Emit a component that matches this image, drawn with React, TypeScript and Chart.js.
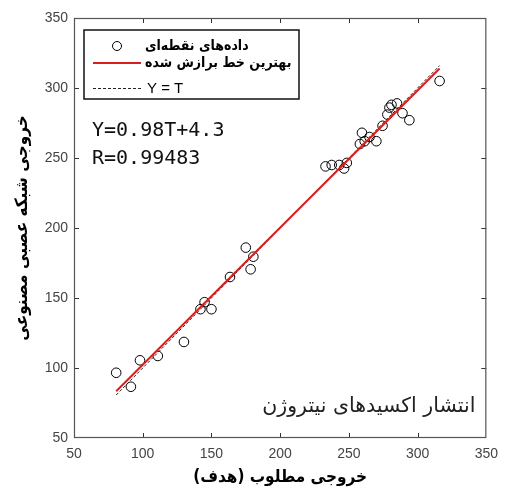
import React, { useEffect, useRef } from 'react';
import { Chart, registerables } from 'chart.js';

Chart.register(...registerables);

// Target (desired) outputs
const targetValues = [
  80.7, 91.4, 98, 111, 130, 142, 145, 150, 163.5, 175, 180.5, 178.5,
  233, 237.5, 243, 246.5, 248.5, 258, 259.5, 261.5, 265, 270, 274.5,
  278, 279.5, 281, 285, 289, 294, 316,
];
// Network outputs
const networkOutputs = [
  96.6, 86.6, 105.5, 108.6, 118.6, 142, 147, 142, 165, 186, 179.5, 170.5,
  244, 245, 245, 242.5, 246.5, 260, 268, 262, 265, 262, 273,
  281, 286, 288, 289, 282, 277, 305,
];
const fitSlope = 0.98;
const fitIntercept = 4.3;
const axisMin = 50;
const axisMax = 350;
const axisStep = 50;
const legendLabels = ['داده‌های نقطه‌ای', 'بهترین خط برازش شده', 'Y = T'];
const equationText = 'Y=0.98T+4.3';
const correlationText = 'R=0.99483';
const annotationText = 'انتشار اکسیدهای نیتروژن';
const xTitle = 'خروجی مطلوب (هدف)';
const yTitle = 'خروجی شبکه عصبی مصنوعی';

const RED = '#d81e1e';
const PERSIAN_FONT = '"DejaVu Sans", sans-serif';
const PERSIAN_COND = '"DejaVu Sans Condensed", "DejaVu Sans", sans-serif';

const overlayPlugin = {
  id: 'matlabOverlay',
  afterDatasetsDraw(chart: any) {
    const { ctx, chartArea: ca, scales } = chart;
    const xs = scales.x;
    const ys = scales.y;
    ctx.save();
    // ticks inward on all four sides
    ctx.strokeStyle = '#333';
    ctx.lineWidth = 1;
    const tl = 5;
    for (let v = axisMin + axisStep; v < axisMax; v += axisStep) {
      const px = Math.round(xs.getPixelForValue(v)) + 0.5;
      ctx.beginPath();
      ctx.moveTo(px, ca.bottom);
      ctx.lineTo(px, ca.bottom - tl);
      ctx.moveTo(px, ca.top);
      ctx.lineTo(px, ca.top + tl);
      ctx.stroke();
      const py = Math.round(ys.getPixelForValue(v)) + 0.5;
      ctx.beginPath();
      ctx.moveTo(ca.left, py);
      ctx.lineTo(ca.left + tl, py);
      ctx.moveTo(ca.right, py);
      ctx.lineTo(ca.right - tl, py);
      ctx.stroke();
    }
    // box
    ctx.strokeStyle = '#555';
    ctx.lineWidth = 1.2;
    ctx.strokeRect(ca.left + 0.5, ca.top + 0.5, ca.right - ca.left - 1, ca.bottom - ca.top - 1);

    // legend
    const lx = ca.left + 10;
    const ly = ca.top + 12;
    const lw = 215;
    const lh = 69;
    ctx.fillStyle = '#fff';
    ctx.fillRect(lx, ly, lw, lh);
    ctx.strokeStyle = '#111';
    ctx.lineWidth = 1.5;
    ctx.strokeRect(lx, ly, lw, lh);

    const row1 = ly + 16;
    const row2 = ly + 32;
    const row3 = ly + 58;
    // marker
    ctx.strokeStyle = '#000';
    ctx.lineWidth = 1;
    ctx.beginPath();
    ctx.arc(lx + 33, row1, 4.5, 0, Math.PI * 2);
    ctx.stroke();
    // red line
    ctx.strokeStyle = RED;
    ctx.lineWidth = 2;
    ctx.beginPath();
    ctx.moveTo(lx + 9, row2 + 1);
    ctx.lineTo(lx + 57, row2 + 1);
    ctx.stroke();
    // dashed line
    ctx.strokeStyle = '#222';
    ctx.lineWidth = 1;
    ctx.setLineDash([3, 2]);
    ctx.beginPath();
    ctx.moveTo(lx + 9, row3 + 0.5);
    ctx.lineTo(lx + 57, row3 + 0.5);
    ctx.stroke();
    ctx.setLineDash([]);

    ctx.fillStyle = '#000';
    ctx.textBaseline = 'middle';
    ctx.textAlign = 'left';
    ctx.direction = 'rtl';
    ctx.font = 'bold 14px ' + PERSIAN_COND;
    ctx.fillText(legendLabels[0], lx + 61, row1);
    ctx.fillText(legendLabels[1], lx + 61, row2 + 1);
    ctx.direction = 'ltr';
    ctx.font = '15px "Liberation Sans", Arial, sans-serif';
    ctx.fillText(legendLabels[2], lx + 63, row3 + 1);

    // equation text
    ctx.font = '20px "DejaVu Sans Mono", monospace';
    ctx.fillStyle = '#111';
    ctx.fillText(equationText, ca.left + 18, ca.top + 113);
    ctx.fillText(correlationText, ca.left + 18, ca.top + 141);

    // annotation
    ctx.direction = 'ltr';
    ctx.textAlign = 'right';
    ctx.font = '20.5px ' + PERSIAN_FONT;
    ctx.fillStyle = '#222';
    ctx.fillText(annotationText, ca.right - 11, ca.bottom - 31);
    ctx.restore();
  },
};

export default function App() {
  const canvasRef = useRef<HTMLCanvasElement | null>(null);

  useEffect(() => {
    const canvas = canvasRef.current;
    if (!canvas) return;
    const points = targetValues.map((t, i) => ({ x: t, y: networkOutputs[i] }));
    const tMin = Math.min(...targetValues);
    const tMax = Math.max(...targetValues);
    const fitLine = [tMin, tMax].map((t) => ({ x: t, y: fitSlope * t + fitIntercept }));
    const identityLine = [tMin, tMax].map((t) => ({ x: t, y: t }));

    const chart = new Chart(canvas, {
      type: 'scatter',
      data: {
        datasets: [
          {
            label: legendLabels[1],
            data: fitLine,
            showLine: true,
            borderColor: RED,
            borderWidth: 2,
            pointRadius: 0,
            order: 0,
          },
          {
            label: legendLabels[2],
            data: identityLine,
            showLine: true,
            borderColor: '#222',
            borderWidth: 1,
            borderDash: [3, 2],
            pointRadius: 0,
            order: 1,
          },
          {
            label: legendLabels[0],
            data: points,
            pointStyle: 'circle',
            pointRadius: 4.8,
            borderWidth: 1,
            borderColor: '#000',
            backgroundColor: 'rgba(0,0,0,0)',
            order: 2,
          },
        ],
      },
      options: {
        responsive: false,
        animation: false,
        layout: { padding: { left: 0, top: 18, right: 13, bottom: 0 } },
        plugins: { legend: { display: false }, tooltip: { enabled: false } },
        scales: {
          x: {
            type: 'linear',
            min: axisMin,
            max: axisMax,
            afterFit: (s: any) => {
              s.height = 56;
            },
            ticks: {
              stepSize: axisStep,
              padding: 8,
              color: '#444',
              font: { family: '"Liberation Sans", Arial, sans-serif', size: 14 },
              maxRotation: 0,
            },
            grid: { drawOnChartArea: false, drawTicks: false },
            border: { display: false },
            title: {
              display: true,
              text: xTitle,
              color: '#000',
              font: { family: PERSIAN_COND, size: 17, weight: 'bold' },
              padding: { top: 0, bottom: 6 },
            },
          },
          y: {
            type: 'linear',
            min: axisMin,
            max: axisMax,
            afterFit: (s: any) => {
              s.width = 74;
            },
            ticks: {
              stepSize: axisStep,
              padding: 6,
              color: '#444',
              font: { family: '"Liberation Sans", Arial, sans-serif', size: 14 },
            },
            grid: { drawOnChartArea: false, drawTicks: false },
            border: { display: false },
            title: {
              display: true,
              text: yTitle,
              color: '#000',
              font: { family: PERSIAN_COND, size: 17, weight: 'bold' },
              padding: { top: 12, bottom: 0 },
            },
          },
        },
      },
      plugins: [overlayPlugin],
    });
    return () => chart.destroy();
  }, []);

  return (
    <div style={{ position: 'absolute', left: 0, top: 0, width: 506, height: 494, background: '#fff' }}>
      <canvas ref={canvasRef} width={506} height={494} style={{ width: 506, height: 494 }} />
    </div>
  );
}
